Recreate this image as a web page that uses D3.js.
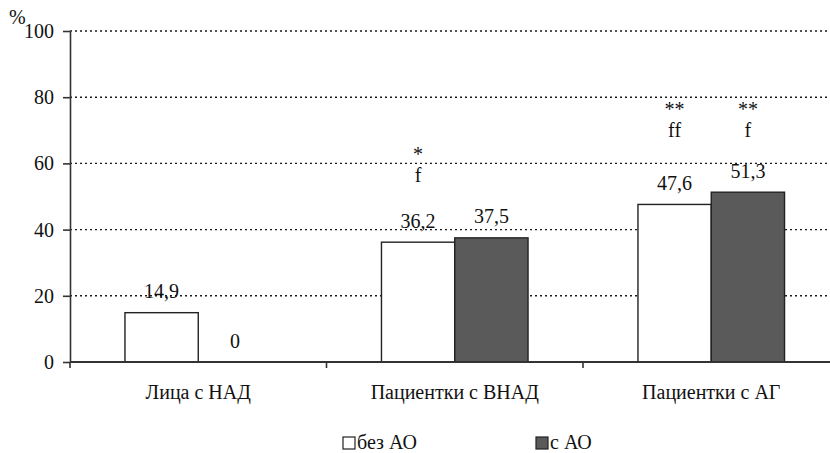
<!DOCTYPE html>
<html>
<head>
<meta charset="utf-8">
<script src="https://cdn.jsdelivr.net/npm/d3@7"></script>
<style>
  body { margin: 0; background: #fff; }
</style>
</head>
<body>
<div id="chart"></div>
<script>
// Data
const categories = ["Лица с НАД", "Пациентки с ВНАД", "Пациентки с АГ"];
const seriesNames = ["без АО", "с АО"];
const valuesWithout = [14.9, 36.2, 47.6];
const valuesWith = [0, 37.5, 51.3];
const valueLabels = [["14,9", "0"], ["36,2", "37,5"], ["47,6", "51,3"]];
const yTicks = [0, 20, 40, 60, 80, 100];
// significance marks: [category index, series index, line1, line2]
const marks = [
  [1, 0, "*", "f"],
  [2, 0, "**", "ff"],
  [2, 1, "**", "f"]
];

const seriesColors = ["#ffffff", "#5a5a5a"];
const serif = "Liberation Serif";
const fs = 20;

// Dimensions
const width = 830;
const height = 453;
const margin = {top: 31, left: 70, bottom: 91};

const svg = d3.select("#chart")
  .append("svg")
    .attr("width", width)
    .attr("height", height);

// helper: serif text
const addText = (sel) => sel
  .attr("font-family", serif)
  .attr("font-size", fs)
  .attr("fill", "#111");

// Scales
const x0 = d3.scaleBand()
  .domain(categories)
  .range([margin.left, margin.left + 3 * 256.5])
  .padding(0);

const x1 = d3.scaleBand()
  .domain(seriesNames)
  .range([0, x0.bandwidth()])
  .paddingInner(0)
  .paddingOuter(0.75);

const y = d3.scaleLinear()
  .domain([0, 100])
  .range([height - margin.bottom, margin.top]);

// Gridlines (dotted)
svg.append("g")
  .selectAll("line")
  .data(yTicks.filter(d => d > 0))
  .join("line")
    .attr("x1", margin.left)
    .attr("x2", width)
    .attr("y1", d => y(d))
    .attr("y2", d => y(d))
    .attr("stroke", "#1a1a1a")
    .attr("stroke-width", 1.4)
    .attr("stroke-dasharray", "2,3");

// Bars
const rows = categories.map((c, i) => ({
  cat: c,
  i: i,
  vals: [valuesWithout[i], valuesWith[i]]
}));

const groups = svg.append("g")
  .selectAll("g")
  .data(rows)
  .join("g")
    .attr("transform", d => `translate(${x0(d.cat)},0)`);

groups.selectAll("rect")
  .data(d => d.vals.map((v, j) => ({v, j})).filter(e => e.v > 0))
  .join("rect")
    .attr("x", d => x1(seriesNames[d.j]))
    .attr("y", d => y(d.v))
    .attr("width", x1.bandwidth())
    .attr("height", d => y(0) - y(d.v))
    .attr("fill", d => seriesColors[d.j])
    .attr("stroke", "#222")
    .attr("stroke-width", 1.4);

// Value labels
groups.selectAll("text.val")
  .data(d => d.vals.map((v, j) => ({v, j, label: valueLabels[d.i][j]})))
  .join("text")
    .attr("class", "val")
    .attr("x", d => x1(seriesNames[d.j]) + x1.bandwidth() / 2)
    .attr("y", d => y(d.v) - 14.5)
    .attr("text-anchor", "middle")
    .call(addText)
    .text(d => d.label);

// Significance marks, above the tallest bar of the group
marks.forEach(([ci, si, l1, l2]) => {
  const top = y(d3.max([valuesWithout[ci], valuesWith[ci]])) - 14.5 - 41;
  const cx = x0(categories[ci]) + x1(seriesNames[si]) + x1.bandwidth() / 2;
  svg.append("text")
    .attr("x", cx)
    .attr("y", top - 21)
    .attr("text-anchor", "middle")
    .call(addText)
    .text(l1);
  svg.append("text")
    .attr("x", cx)
    .attr("y", top)
    .attr("text-anchor", "middle")
    .call(addText)
    .text(l2);
});

// y-axis
const yAxis = d3.axisLeft(y)
  .tickValues(yTicks)
  .tickSize(7)
  .tickPadding(9)
  .tickSizeOuter(0);

svg.append("g")
    .attr("transform", `translate(${margin.left},0)`)
    .call(yAxis)
  .call(g => g.attr("font-family", serif).attr("font-size", fs))
  .call(g => g.selectAll("text").attr("fill", "#111"))
  .call(g => g.selectAll("path, line").attr("stroke", "#333").attr("stroke-width", 1.6));

// x-axis line with boundary ticks
const xAxisG = svg.append("g");
xAxisG.append("line")
  .attr("x1", margin.left)
  .attr("x2", width)
  .attr("y1", y(0))
  .attr("y2", y(0))
  .attr("stroke", "#333")
  .attr("stroke-width", 1.8);

xAxisG.selectAll("line.tick")
  .data(categories)
  .join("line")
    .attr("class", "tick")
    .attr("x1", d => x0(d))
    .attr("x2", d => x0(d))
    .attr("y1", y(0))
    .attr("y2", y(0) + 6)
    .attr("stroke", "#333")
    .attr("stroke-width", 1.6);

xAxisG.selectAll("text")
  .data(categories)
  .join("text")
    .attr("x", d => x0(d) + x0.bandwidth() / 2)
    .attr("y", y(0) + 37)
    .attr("text-anchor", "middle")
    .call(addText)
    .text(d => d);

// % unit
svg.append("text")
  .attr("x", 9)
  .attr("y", 24)
  .call(addText)
  .text("%");

// Legend
const legendX = [343, 536];
const legend = svg.append("g")
  .selectAll("g")
  .data(seriesNames)
  .join("g")
    .attr("transform", (d, i) => `translate(${legendX[i]}, 437)`);

legend.append("rect")
  .attr("width", 12)
  .attr("height", 12)
  .attr("fill", (d, i) => seriesColors[i])
  .attr("stroke", "#222")
  .attr("stroke-width", 1.2);

legend.append("text")
  .attr("x", 14)
  .attr("y", 12)
  .call(addText)
  .text(d => d);
</script>
</body>
</html>
